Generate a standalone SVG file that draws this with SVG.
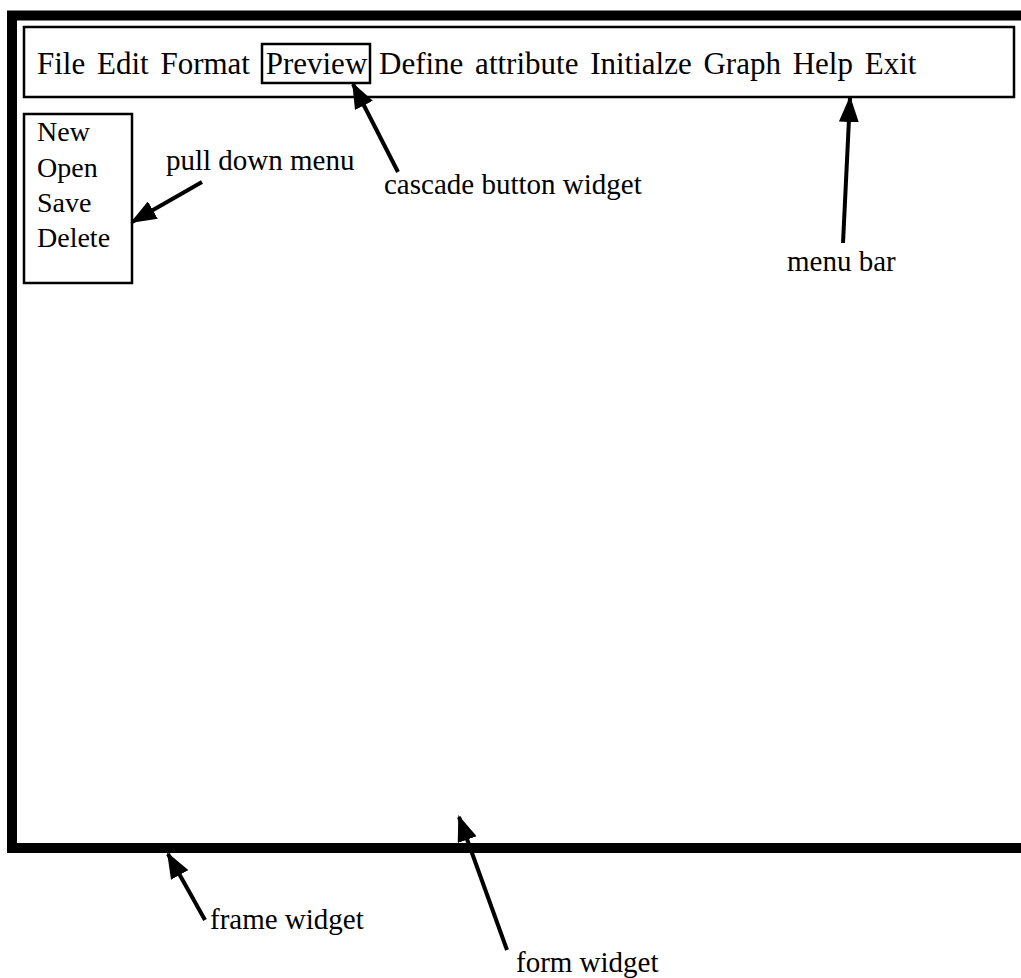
<svg xmlns="http://www.w3.org/2000/svg" width="1021" height="978" viewBox="0 0 1021 978">
  <style>
    text { font-family: "Liberation Serif", "Times New Roman", serif; fill: #000; }
    .menu { font-size: 31px; word-spacing: 4px; }
    .item { font-size: 28px; }
    .label { font-size: 29px; }
    .box { fill: none; stroke: #000; stroke-width: 2.5; }
    .frame { fill: none; stroke: #000; stroke-width: 10; stroke-linejoin: miter; }
    .conn { stroke: #000; stroke-width: 4; fill: none; marker-end: url(#head); }
  </style>
  <defs>
    <marker id="head" markerUnits="userSpaceOnUse" markerWidth="26" markerHeight="20" refX="24" refY="10" orient="auto">
      <path d="M0,0 L26,10 L0,20 Z" fill="#000"/>
    </marker>
  </defs>

  <rect width="1021" height="978" fill="#fff"/>

  <!-- frame widget: thick border open on the right -->
  <g id="frame-widget">
    <path class="frame" d="M1021,15.5 L12,15.5 L12,848 L1021,848"/>
  </g>

  <!-- menu bar with its cascade buttons -->
  <g id="menu-bar">
    <rect class="box" x="24" y="27" width="990" height="70"/>
    <text class="menu" x="37" y="74">File Edit Format <tspan dx="4">Preview</tspan> Define attribute Initialze Graph Help Exit</text>
  </g>

  <g id="cascade-button">
    <rect class="box" x="262" y="44" width="108" height="39"/>
  </g>

  <!-- pull down menu -->
  <g id="pull-down-menu">
    <rect class="box" x="24" y="114" width="108" height="169"/>
    <text class="item" x="37" y="141">New</text>
    <text class="item" x="37" y="177">Open</text>
    <text class="item" x="37" y="212">Save</text>
    <text class="item" x="37" y="247">Delete</text>
  </g>

  <!-- callout labels -->
  <g id="labels">
    <text class="label" x="166" y="170">pull down menu</text>
    <text class="label" x="384" y="194">cascade button widget</text>
    <text class="label" x="787" y="271">menu bar</text>
    <text class="label" x="210" y="929">frame widget</text>
    <text class="label" x="516" y="972">form widget</text>
  </g>

  <!-- connectors -->
  <g id="connectors">
    <line class="conn" x1="202" y1="182" x2="132" y2="222"/>
    <line class="conn" x1="398" y1="172" x2="353" y2="84"/>
    <line class="conn" x1="843" y1="243" x2="850" y2="98"/>
    <line class="conn" x1="205" y1="920" x2="168" y2="854"/>
    <line class="conn" x1="507" y1="950" x2="459" y2="817"/>
  </g>
</svg>
